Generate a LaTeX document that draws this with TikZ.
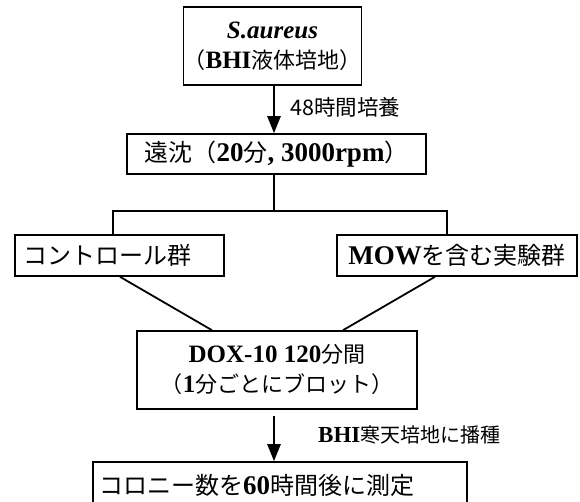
\documentclass[tikz,border=0pt]{standalone}
\usepackage{fontspec}
\setmainfont{Liberation Serif}
\newfontfamily\jp{Noto Sans CJK JP}
\usetikzlibrary{arrows.meta}
\newcommand\latb[2]{{\fontsize{#1}{#1}\selectfont\bfseries #2}}
\tikzset{
  box/.style={draw, line width=1.6pt, inner sep=0pt, align=center},
  conn/.style={line width=1.8pt},
  flowarrow/.style={line width=2.6pt, -{Triangle[width=13pt,length=17pt]}},
  lbl/.style={inner sep=0pt, anchor=west},
}
\begin{document}
\begin{tikzpicture}[x=1pt,y=-1pt]
\useasboundingbox (0,0) rectangle (580,501);
% boxes
\node[box, minimum width=167pt, minimum height=78pt, font=\fontsize{22}{30}\selectfont] (b1) at (272.5,46)
  {\latb{25}{\itshape S.aureus}\\{\jp （}\latb{25}{BHI}{\jp 液体培地）}};
\node[box, minimum width=299pt, minimum height=40pt, font=\fontsize{24}{28}\selectfont] (b2) at (276.5,154)
  {{\jp 遠沈（}\latb{27}{20}{\jp 分}\latb{27}{, 3000rpm}{\jp ）}};
\node[box, minimum width=209pt, minimum height=41pt, text width=193pt, align=left, inner xsep=8pt, font=\fontsize{24}{28}\selectfont] (b3) at (119.5,255.5)
  {\jp コントロール群};
\node[box, minimum width=240pt, minimum height=41pt, font=\fontsize{24}{28}\selectfont] (b4) at (457,255.5)
  {\latb{27}{MOW}{\jp を含む実験群}};
\node[box, minimum width=280pt, minimum height=78pt, font=\fontsize{22}{30}\selectfont] (b5) at (277,370)
  {\latb{25}{DOX-10 120}{\jp 分間}\\{\jp （}\latb{25}{1}{\jp 分ごとにブロット）}};
\node[box, minimum width=374pt, minimum height=48pt, text width=362pt, align=left, inner xsep=6pt, font=\fontsize{24}{28}\selectfont] (b6) at (280,486)
  {\raisebox{4pt}{{\jp コロニー数を}\latb{27}{60}{\jp 時間後に測定}}};
% labels
\node[lbl, font=\fontsize{21.5}{24}\selectfont] (l1) at (290,107) {\jp 48時間培養};
\node[lbl, font=\fontsize{20}{24}\selectfont] (l2) at (318,435) {\latb{23}{BHI}{\jp 寒天培地に播種}};
% helper coordinates
\coordinate (ax) at (274,0);
\coordinate (bar) at (274,211);
\coordinate (barL) at (113,211);
\coordinate (barR) at (447,211);
\coordinate (dL1) at (120,0);
\coordinate (dL2) at (212,0);
\coordinate (dR1) at (435,0);
\coordinate (dR2) at (343,0);
% connectors
\draw[flowarrow] (b1.south -| ax) -- (b2.north -| ax);
\draw[conn] (b2.south -| ax) -- (bar);
\draw[conn, line cap=rect] (barL) -- (barR);
\draw[conn] (barL) -- (barL |- b3.north);
\draw[conn] (barR) -- (barR |- b4.north);
\draw[conn] (b3.south -| dL1) -- (b5.north -| dL2);
\draw[conn] (b4.south -| dR1) -- (b5.north -| dR2);
\draw[flowarrow, shorten <=6pt] (b5.south -| ax) -- (b6.north -| ax);
\end{tikzpicture}
\end{document}
